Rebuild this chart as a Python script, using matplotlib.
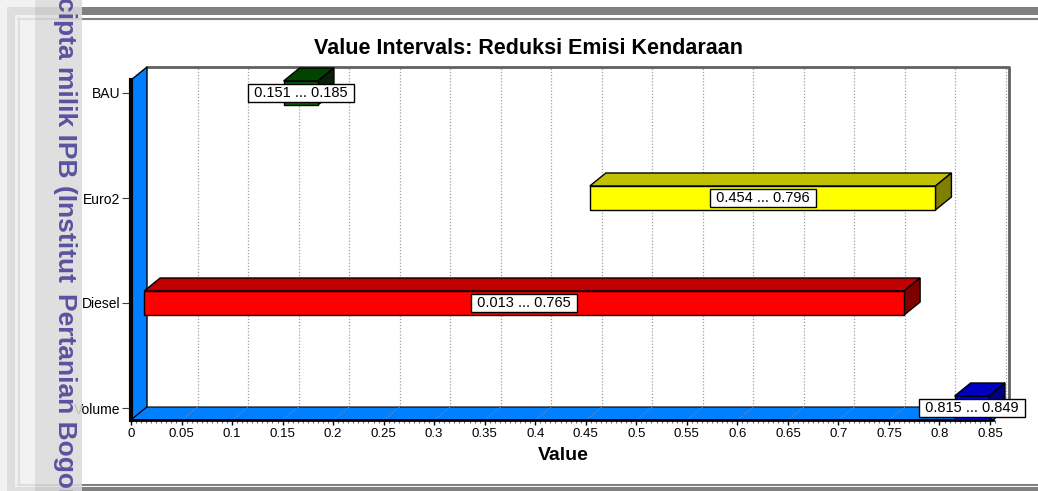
import numpy as np
import matplotlib.pyplot as plt
from matplotlib.patches import Polygon, Rectangle

plt.rcParams['font.family'] = ['Liberation Sans', 'DejaVu Sans']

# data
categories = ['Volume', 'Diesel', 'Euro2', 'BAU']
lower = [0.815, 0.013, 0.454, 0.151]
upper = [0.849, 0.765, 0.796, 0.185]
front_colors = ['#0000ff', '#ff0000', '#ffff00', '#006400']
top_colors = ['#0000c0', '#c00000', '#c0c000', '#004400']
side_colors = ['#000080', '#800000', '#808000', '#0a200a']
x_ticks = [0, 0.05, 0.1, 0.15, 0.2, 0.25, 0.3, 0.35, 0.4, 0.45,
           0.5, 0.55, 0.6, 0.65, 0.7, 0.75, 0.8, 0.85]
x_tick_labels = ['0', '0.05', '0.1', '0.15', '0.2', '0.25', '0.3', '0.35', '0.4',
                 '0.45', '0.5', '0.55', '0.6', '0.65', '0.7', '0.75', '0.8', '0.85']

W, H = 1038, 491
PX_UNIT = 1010.6   # pixels per value unit
PX_CAT = 105.0     # pixels per category
DX = 16 / PX_UNIT  # 3d depth offset
DY = 13 / PX_CAT
HALF = 12 / PX_CAT
C_BOT = -12 / PX_CAT
C_TOP = 328 / PX_CAT
X_END = 0.853
XMAX = 0.86


def box(x0, y0, x1, y1):
    return [x0 / W, 1 - y1 / H, (x1 - x0) / W, (y1 - y0) / H]


fig = plt.figure(figsize=(W / 100, H / 100), dpi=100)

# page frame
bg = fig.add_axes([0, 0, 1, 1], zorder=0)
bg.set_xlim(0, W)
bg.set_ylim(H, 0)
bg.axis('off')
bg.add_patch(Rectangle((7, 7), W, 8, color='#808080', lw=0))
bg.add_patch(Rectangle((7, 7), 8, H, color='#808080', lw=0))
bg.add_patch(Rectangle((7, 487), W, 8, color='#808080', lw=0))
bg.plot([18, W], [18.5, 18.5], color='#808080', lw=1.5)
bg.plot([18.5, 18.5], [18, 484.5], color='#808080', lw=1.5)
bg.plot([18, W], [484.5, 484.5], color='#808080', lw=1.5)

# chart
ax = fig.add_axes(box(131, 80, 131 + XMAX * PX_UNIT, 420), zorder=2)
ax.patch.set_visible(False)
ax.set_xlim(0, XMAX)
ax.set_ylim(C_BOT, C_TOP)
for s in ax.spines.values():
    s.set_visible(False)

# back wall grid + border
for v in x_ticks[1:]:
    ax.plot([v + DX, v + DX], [C_BOT + DY, C_TOP + DY], ls=(0, (1, 1.5)),
            color='#a0a0a0', lw=0.9, clip_on=False, zorder=1)
ax.plot([DX, X_END + DX, X_END + DX], [C_TOP + DY, C_TOP + DY, C_BOT + DY],
        color='#606060', lw=2, clip_on=False, zorder=1)

# left wall and floor
ax.add_patch(Polygon([(0, C_BOT), (0, C_TOP), (DX, C_TOP + DY), (DX, C_BOT + DY)],
                     fc='#0080ff', ec='black', lw=1, clip_on=False, zorder=2))
ax.add_patch(Polygon([(0, C_BOT), (X_END, C_BOT), (X_END + DX, C_BOT + DY), (DX, C_BOT + DY)],
                     fc='#0080ff', ec='black', lw=0.8, clip_on=False, zorder=2))
for v in x_ticks[1:]:
    ax.plot([v, v + DX], [C_BOT, C_BOT + DY], ls=(0, (1, 1.5)),
            color='#7090c0', lw=0.8, clip_on=False, zorder=2.5)
ax.plot([0, 0], [C_BOT, C_TOP], color='black', lw=3, clip_on=False, zorder=3)
ax.plot([0, X_END], [C_BOT, C_BOT], color='black', lw=2, clip_on=False, zorder=3)

# bars
for i in range(len(categories)):
    lo, hi = lower[i], upper[i]
    c = i
    ax.add_patch(Polygon([(lo, c + HALF), (hi, c + HALF), (hi + DX, c + HALF + DY), (lo + DX, c + HALF + DY)],
                         fc=top_colors[i], ec='black', lw=1, clip_on=False, zorder=4))
    ax.add_patch(Polygon([(hi, c - HALF), (hi, c + HALF), (hi + DX, c + HALF + DY), (hi + DX, c - HALF + DY)],
                         fc=side_colors[i], ec='black', lw=1, clip_on=False, zorder=4))
    ax.add_patch(Rectangle((lo, c - HALF), hi - lo, 2 * HALF,
                           fc=front_colors[i], ec='black', lw=1, clip_on=False, zorder=4))
    ax.text((lo + hi) / 2, c, f' {lo:.3f} ... {hi:.3f} ', ha='center', va='center',
            fontsize=10.5, zorder=6,
            bbox=dict(boxstyle='square,pad=0.15', fc='white', ec='black', lw=1))

# ticks
ax.set_yticks(range(len(categories)), categories)
ax.tick_params(axis='y', length=6.5, width=0.8, color='#404040', pad=1, labelsize=10)
ax.set_xticks(x_ticks, x_tick_labels)
ax.set_xticks(np.arange(0, 0.856, 0.005), minor=True)
ax.tick_params(axis='x', which='major', length=3.6, width=1, color='black', pad=2, labelsize=9.5)
ax.tick_params(axis='x', which='minor', length=2.2, width=0.8, color='#606060')

fig.text(528 / W, 1 - 48 / H, 'Value Intervals: Reduksi Emisi Kendaraan',
         ha='center', va='center', fontsize=15.5, fontweight='bold')
fig.text(563 / W, 1 - 455 / H, 'Value', ha='center', va='center',
         fontsize=14, fontweight='bold')

# watermark strip
fg = fig.add_axes([0, 0, 1, 1], zorder=10)
fg.patch.set_visible(False)
fg.set_xlim(0, W)
fg.set_ylim(H, 0)
fg.axis('off')
fg.add_patch(Rectangle((0, 0), 35, H, color='#f0f0f0', alpha=0.85, lw=0))
fg.add_patch(Rectangle((35, 0), 47, H, color='#dbdbdb', alpha=0.87, lw=0))
fg.text(65, -3, 'cipta milik IPB (Institut', rotation=-90, ha='center', va='top',
        fontsize=19, fontweight='bold', color='#5a52a0')
fg.text(65, 293, 'Pertanian Bogor', rotation=-90, ha='center', va='top',
        fontsize=19, fontweight='bold', color='#5a52a0')

fig.savefig('out.png', dpi=100)
